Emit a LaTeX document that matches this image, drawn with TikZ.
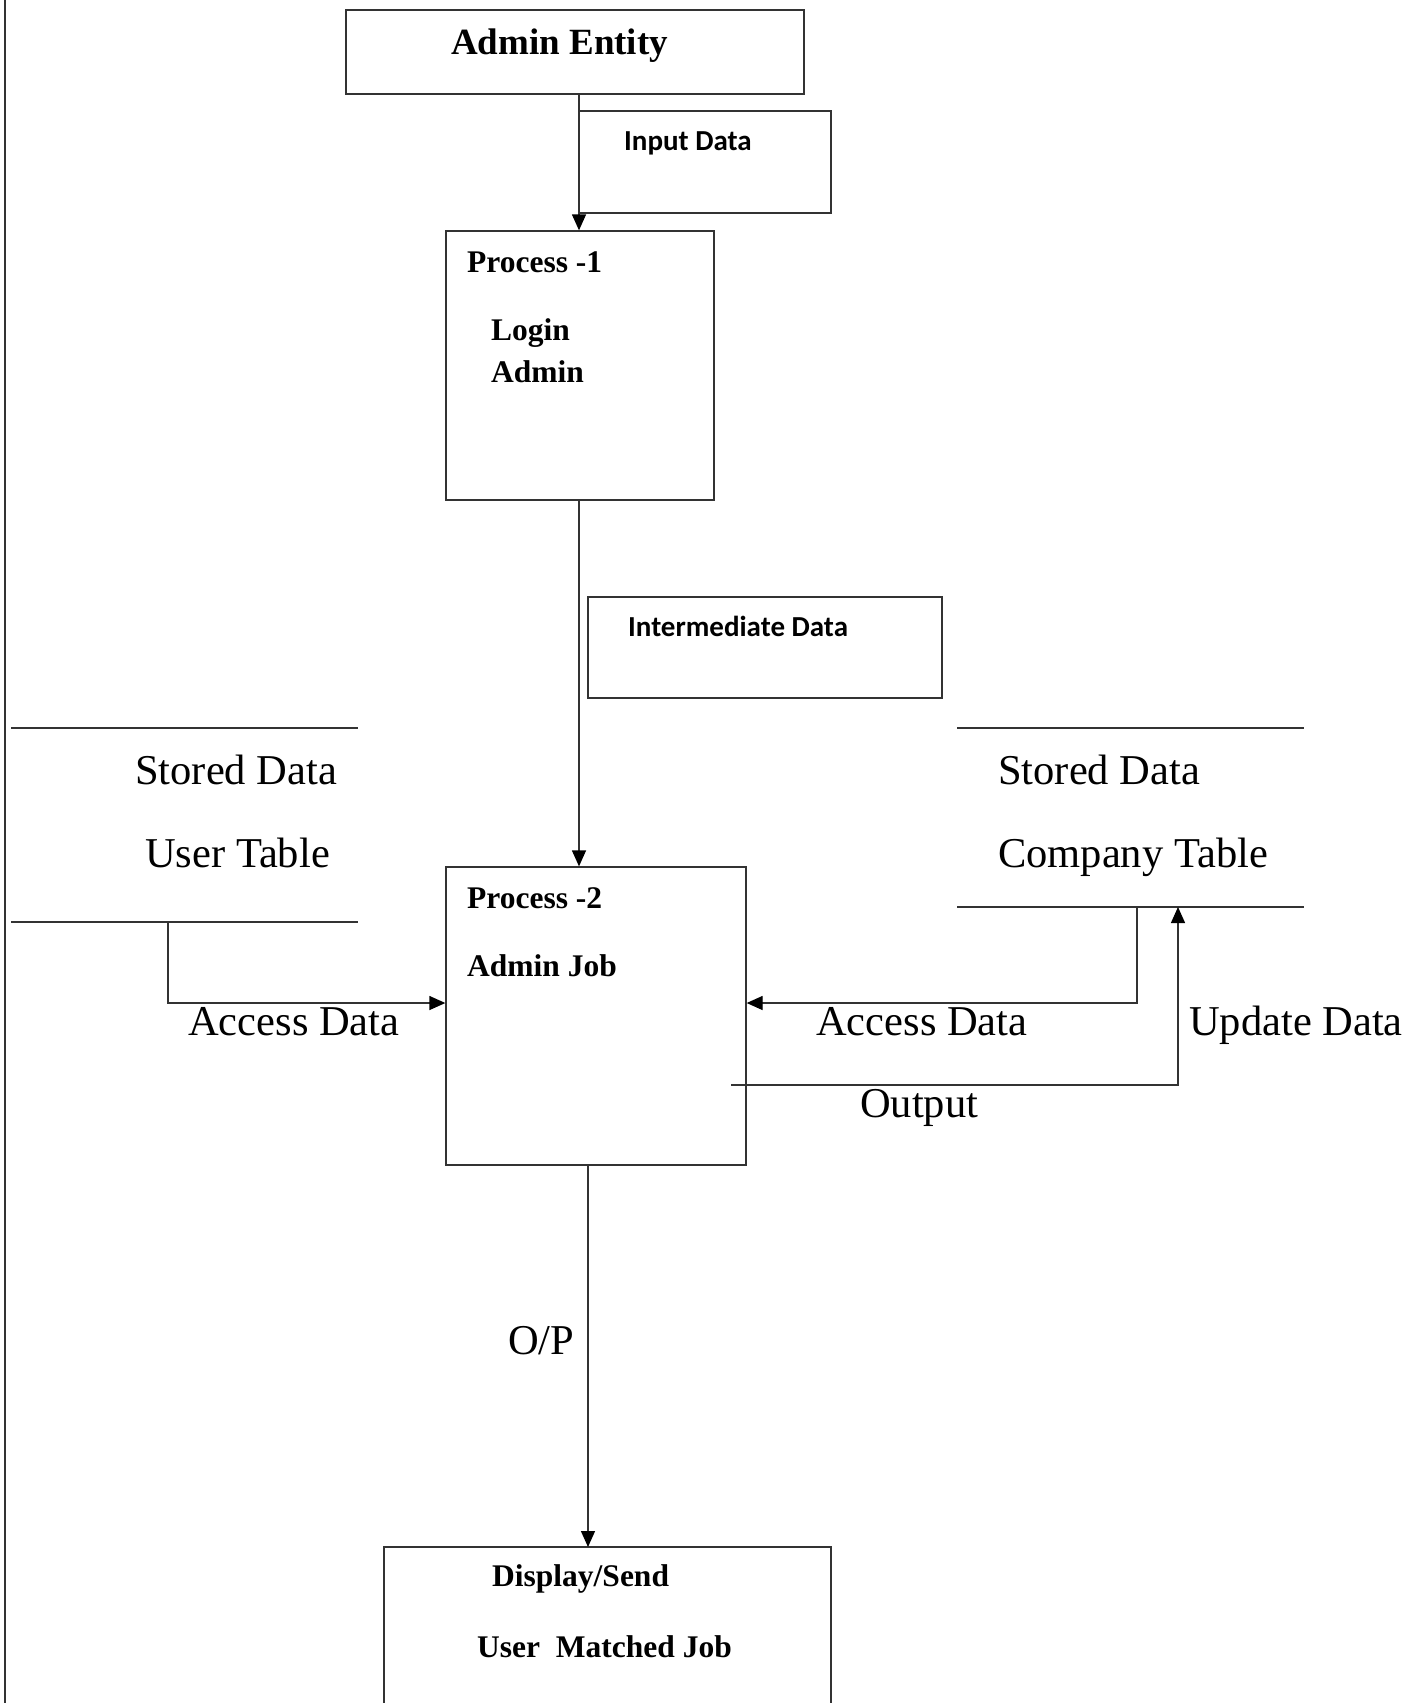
\documentclass[tikz,border=0pt]{standalone}
\usepackage{fontspec}
\setmainfont{Liberation Serif}
\newfontfamily\carlito{Carlito}
\usetikzlibrary{arrows.meta}
\tikzset{
  box/.style={draw=black!80, line width=1.3pt, inner sep=0pt},
  conn/.style={draw=black!80, line width=1.3pt},
  arr/.style={conn, -{Triangle[length=16pt,width=14pt,color=black,fill=black]}},
  bigtxt/.style={anchor=base west, inner sep=0pt, font=\fontsize{42.5}{50}\selectfont},
  boldtxt/.style={anchor=base west, inner sep=0pt, font=\fontsize{31.5}{38}\selectfont\bfseries},
  sanstxt/.style={anchor=base west, inner sep=0pt, font=\fontsize{29}{35}\selectfont\carlito\bfseries},
}
\begin{document}
\begin{tikzpicture}[x=1pt,y=-1pt]
\useasboundingbox[fill=white] (0,0) rectangle (1419,1703);
% left border
\coordinate (bt) at (5,0);
\coordinate (bb) at (5,1703);
\draw[conn] (bt) -- (bb);

% boxes
\node[box, minimum width=458pt, minimum height=84pt] (ent) at (575,52) {};
\node[box, minimum width=252pt, minimum height=102pt] (inp) at (705,162) {};
\node[box, minimum width=268pt, minimum height=269pt] (p1) at (580,365.5) {};
\node[box, minimum width=354pt, minimum height=101pt] (inter) at (765,647.5) {};
\node[box, minimum width=300pt, minimum height=298pt] (p2) at (596,1016) {};
% display box (bottom cut off)
\coordinate (dbl) at (384,1703);
\coordinate (dtl) at (384,1547);
\coordinate (dtr) at (831,1547);
\coordinate (dbr) at (831,1703);
\draw[conn] (dbl) -- (dtl) -- (dtr) -- (dbr);
\coordinate (disp) at (588,1547);

% data stores
\coordinate (ut1) at (11,728);  \coordinate (ut2) at (358,728);
\coordinate (ub1) at (11,922);  \coordinate (ub2) at (358,922);
\draw[conn] (ut1) -- (ut2);
\draw[conn] (ub1) -- (ub2);
\coordinate (ct1) at (957,728);  \coordinate (ct2) at (1304,728);
\coordinate (cb1) at (957,907);  \coordinate (cb2) at (1304,907);
\draw[conn] (ct1) -- (ct2);
\draw[conn] (cb1) -- (cb2);

% texts
\node[boldtxt, font=\fontsize{37}{44}\selectfont\bfseries] (tent) at (451,54) {Admin Entity};
\node[sanstxt] (tinp) at (624,150) {Input Data};
\node[boldtxt] (tp1) at (467,272) {Process -1};
\node[boldtxt] (tlogin) at (491,340) {Login};
\node[boldtxt] (tadm) at (491,382) {Admin};
\node[sanstxt] (tint) at (628,636) {Intermediate Data};
\node[bigtxt] (tsd1) at (135,784) {Stored Data};
\node[bigtxt] (tut) at (145,867) {User Table};
\node[bigtxt] (tsd2) at (998,784) {Stored Data};
\node[bigtxt] (tct) at (998,867) {Company Table};
\node[boldtxt] (tp2) at (467,908) {Process -2};
\node[boldtxt] (taj) at (467,976) {Admin Job};
\node[bigtxt] (tac1) at (188,1035) {Access Data};
\node[bigtxt] (tac2) at (816,1035) {Access Data};
\node[bigtxt] (tupd) at (1189,1035) {Update Data};
\node[bigtxt] (tout) at (860,1117) {Output};
\node[bigtxt] (top) at (508,1354) {O/P};
\node[boldtxt] (tds) at (492,1586) {Display/Send};
\node[boldtxt] (tumj) at (477,1657) {User\ \ Matched Job};

% connectors
\coordinate (xa) at (579,0);
\draw[arr] (ent.south -| xa) -- (p1.north -| xa);
\draw[arr] (p1.south -| xa) -- (p2.north -| xa);
\coordinate (xo) at (588,0);
\draw[arr] (p2.south -| xo) -- (disp);
% user table access
\coordinate (ua) at (168,922);
\coordinate (uc) at (168,1003);
\draw[arr] (ua) -- (uc) -- (uc -| p2.west);
% company table access
\coordinate (ca) at (1137,907);
\coordinate (cc) at (1137,1003);
\draw[arr] (ca) -- (cc) -- (cc -| p2.east);
% output / update
\coordinate (os) at (731,1085);
\coordinate (oc) at (1178,1085);
\coordinate (oe) at (1178,907);
\draw[arr] (os) -- (oc) -- (oe);
\end{tikzpicture}
\end{document}
